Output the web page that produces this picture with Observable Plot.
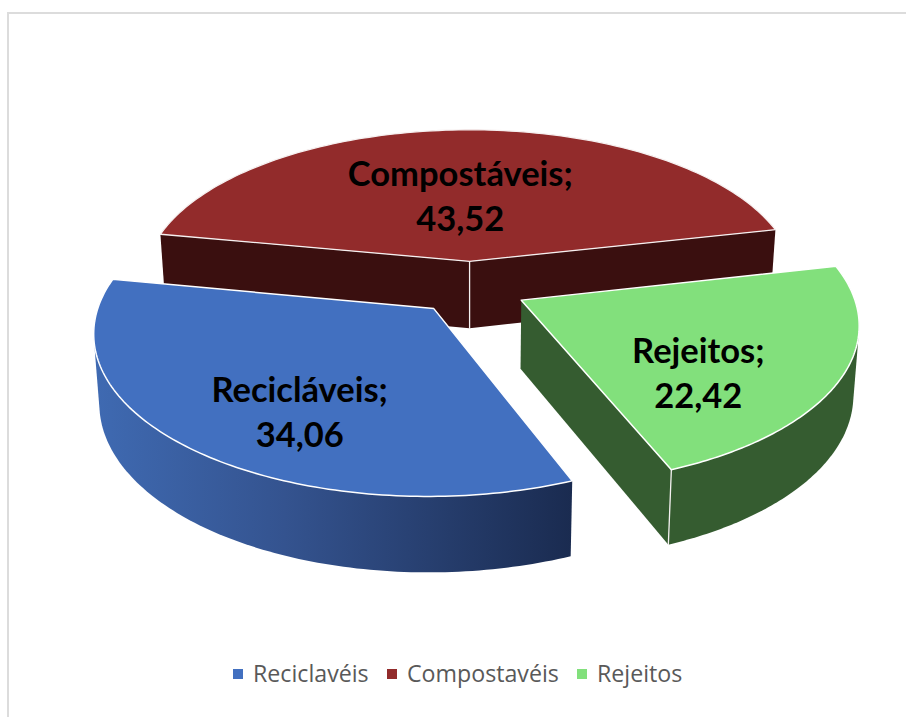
<!DOCTYPE html>
<html lang="pt">
<head>
<meta charset="utf-8">
<style>
  html, body { margin: 0; padding: 0; background: #fff; }
  #page { position: relative; width: 906px; height: 717px; overflow: hidden; }
  #frame { position: absolute; left: 7px; top: 12px; right: -4px; bottom: -4px;
           border: 2px solid #dcdcdc; box-sizing: border-box; }
  #chart { position: absolute; left: 0; top: 0; }
  #chart svg { display: block; }
  #legend { position: absolute; left: 0; top: 650px; width: 906px; height: 48px;
            font: 23.2px "Open Sans", sans-serif; color: #595959; }
  #legend span { position: absolute; white-space: nowrap; line-height: 48px; top: -1px; }
  #legend i { position: absolute; width: 10px; height: 10px; top: 19px; }
</style>
<script src="https://cdn.jsdelivr.net/npm/d3@7"></script>
<script src="https://cdn.jsdelivr.net/npm/@observablehq/plot@0.6"></script>
</head>
<body>
<div id="page"><div id="frame"></div><div id="chart"></div><div id="legend"></div></div>
<script>
// ---- data ----
const categories = ["Recicláveis", "Compostáveis", "Rejeitos"];
const legendLabels = ["Reciclavéis", "Compostavéis", "Rejeitos"];
const values = [34.06, 43.52, 22.42];
const valueLabels = ["34,06", "43,52", "22,42"];

// ---- styles ----
const topColors = ["#4270c0", "#922b2b", "#82e07c"];
const wallColors = ["url(#blueWall)", "#3a0f0f", "#355c30"];

// ---- 3D pie layout: first-slice angle, explosion, tilt ----
const startAngle = 158.1;          // degrees clockwise from the back of the pie
const explode = 0.172;             // slice offset, in radii
const perspective = 0.136;
const thickness = 0.436;           // wall height, in plot y units
const wallExponent = 0.66;
const bottomShrink = 0.985;
const width = 906, svgHeight = 650;
const unitX = 330, unitY = 156, originX = 470, originY = 287;
const labelAngle = [211, -3, 131];
const labelRadius = [0.684, 0.46, 0.65];
const labelDx = [-2, -2, 0];
const labelDy = [-21, -22, -20];
const labelGap = 45;

const rad = d => d * Math.PI / 180;
const total = d3.sum(values);
let acc = startAngle;
const slices = values.map((v, i) => {
  const a0 = acc, a1 = acc + v / total * 360;
  acc = a1;
  const mid = rad((a0 + a1) / 2);
  return {i, a0, a1, ax: explode * Math.sin(mid), ay: explode * Math.cos(mid)};
});

// plane point -> perspective-projected plot coordinates
function upperPt(X, Y) { const w = 1 + perspective * Y; return {x: X / w, y: Y / w, w}; }
function lowerPt(X, Y) {
  const p = upperPt(X, Y);
  return {x: p.x * bottomShrink, y: p.y - thickness / Math.pow(p.w, wallExponent)};
}
function planeRim(s, a) { return [s.ax + Math.sin(rad(a)), s.ay + Math.cos(rad(a))]; }
function rimAngles(s) { return d3.range(0, 121).map(j => s.a0 + (s.a1 - s.a0) * j / 120); }

const topFace = s => [upperPt(s.ax, s.ay), ...rimAngles(s).map(a => upperPt(...planeRim(s, a)))];
// the outer wall is the silhouette (hull) of the upper and lower rims; the top face covers the rest
const outerWall = s => {
  const rim = rimAngles(s).flatMap(a => [upperPt(...planeRim(s, a)), lowerPt(...planeRim(s, a))]);
  // hull is taken in stretched units so that it behaves as on screen
  return d3.polygonHull(rim.map(p => [p.x * unitX, p.y * unitY])).map(([x, y]) => ({x: x / unitX, y: y / unitY}));
};
const radialWall = (s, a) => [
  upperPt(s.ax, s.ay), upperPt(...planeRim(s, a)), lowerPt(...planeRim(s, a)), lowerPt(s.ax, s.ay)
];
const edge = (X, Y) => [upperPt(X, Y), lowerPt(X, Y)];

const face = (pts, fill, stroke, strokeWidth) => Plot.line(pts, {
  x: "x", y: "y", curve: "linear-closed", fill,
  stroke: stroke || "none", strokeWidth: strokeWidth || 0
});
const rule = pts => Plot.line(pts, {x: "x", y: "y", stroke: "#f4f0f0", strokeWidth: 1.3});

const [blue, red, green] = slices;

const defs = () => {
  const d = d3.create("svg:defs");
  const g = d.append("linearGradient").attr("id", "blueWall")
    .attr("x1", 0).attr("x2", 1).attr("y1", 0).attr("y2", 0);
  g.append("stop").attr("offset", "0%").attr("stop-color", "#3f6ab2");
  g.append("stop").attr("offset", "40%").attr("stop-color", "#34538f");
  g.append("stop").attr("offset", "100%").attr("stop-color", "#1a2b50");
  return d.node();
};

const labelRows = slices.flatMap(s => {
  const a = rad(labelAngle[s.i]);
  const p = upperPt(s.ax + labelRadius[s.i] * Math.sin(a), s.ay + labelRadius[s.i] * Math.cos(a));
  return [
    {...p, text: categories[s.i] + ";", dx: labelDx[s.i], dy: labelDy[s.i]},
    {...p, text: valueLabels[s.i], dx: labelDx[s.i], dy: labelDy[s.i] + labelGap}
  ];
});

const plot = Plot.plot({
  width, height: svgHeight,
  margin: 0,
  style: {background: "transparent"},
  x: {domain: [-originX / unitX, (width - originX) / unitX], range: [0, width], axis: null},
  y: {domain: [originY / unitY, (originY - svgHeight) / unitY], range: [0, svgHeight], axis: null},
  marks: [
    defs,
    face(radialWall(red, red.a0), wallColors[1]),
    face(radialWall(red, red.a1), wallColors[1]),
    rule(edge(red.ax, red.ay)),
    face(topFace(red), topColors[1], "#f6f0f0", 1.3),
    face(outerWall(blue), wallColors[0]),
    face(topFace(blue), topColors[0], "#ffffff", 1.5),
    face(radialWall(green, green.a1), wallColors[2]),
    face(outerWall(green), wallColors[2]),
    rule(edge(...planeRim(green, green.a1))),
    face(topFace(green), topColors[2], "#ffffff", 1.5),
    ...labelRows.map(d => Plot.text([d], {
      x: "x", y: "y", dx: d.dx, dy: d.dy, text: "text",
      fontFamily: "Lato", fontWeight: 700, fontSize: 34.5, fill: "#000"
    }))
  ]
});
document.getElementById("chart").append(plot);

// ---- legend, below the SVG ----
const legendX = [253, 407, 597];
const legend = d3.select("#legend");
legendLabels.forEach((name, i) => {
  legend.append("i").style("left", (legendX[i] - 20) + "px").style("background", topColors[i]);
  legend.append("span").style("left", legendX[i] + "px").text(name);
});
</script>
</body>
</html>
